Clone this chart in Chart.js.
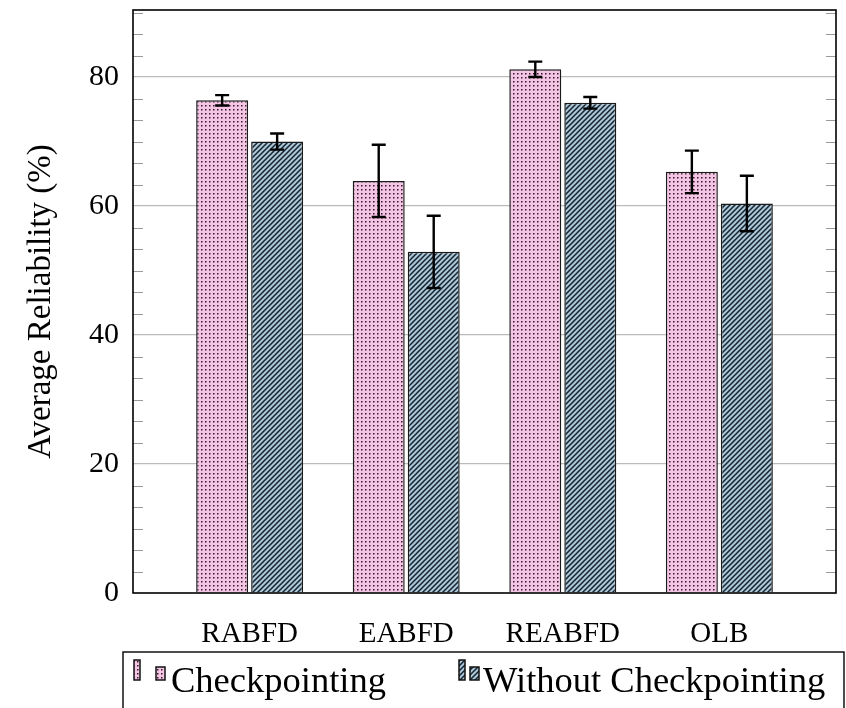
<!DOCTYPE html>
<html lang="en">
<head>
<meta charset="UTF-8" />
<title>Average Reliability</title>
<script src="https://cdn.jsdelivr.net/npm/chart.js"></script>
<style>
  html, body { margin: 0; padding: 0; background: #fff; }
  #wrap { width: 846px; height: 708px; }
</style>
</head>
<body>
<div id="wrap"><canvas id="chartCanvas" width="846" height="708"></canvas></div>
<script>
  const categories = ['RABFD', 'EABFD', 'REABFD', 'OLB'];
  const checkpointing = [76.4, 63.9, 81.2, 65.3];
  const checkpointingErr = [0.8, 5.6, 1.2, 3.3];
  const withoutCheckpointing = [70.0, 52.9, 76.0, 60.4];
  const withoutCheckpointingErr = [1.25, 5.6, 0.9, 4.3];
  const yTicks = [0, 20, 40, 60, 80];
  const seriesNames = ['Checkpointing', 'Without Checkpointing'];

  const SERIF = "'Liberation Serif', 'DejaVu Serif', serif";
  const canvas = document.getElementById('chartCanvas');
  const ctx = canvas.getContext('2d');

  // fill patterns: pink with dots, blue with north-east lines
  function dotPattern() {
    const c = document.createElement('canvas');
    c.width = 4; c.height = 4;
    const g = c.getContext('2d');
    g.fillStyle = '#f6c4e4';
    g.fillRect(0, 0, 4, 4);
    g.fillStyle = '#2e1a2b';
    g.fillRect(1, 1, 1.5, 1.5);
    return ctx.createPattern(c, 'repeat');
  }
  function stripePattern() {
    const s = 5;
    const c = document.createElement('canvas');
    c.width = s; c.height = s;
    const g = c.getContext('2d');
    g.fillStyle = '#abc8da';
    g.fillRect(0, 0, s, s);
    g.strokeStyle = '#17212c';
    g.lineWidth = 1.5;
    g.beginPath();
    g.moveTo(-1, s + 1); g.lineTo(s + 1, -1);
    g.moveTo(-1, 1); g.lineTo(1, -1);
    g.moveTo(s - 1, s + 1); g.lineTo(s + 1, s - 1);
    g.stroke();
    return ctx.createPattern(c, 'repeat');
  }
  const fills = [dotPattern(), stripePattern()];

  // error bars, drawn at each bar's position
  const errorBars = {
    id: 'errorBars',
    afterDatasetsDraw(chart) {
      const { ctx, scales: { y } } = chart;
      const errs = [checkpointingErr, withoutCheckpointingErr];
      ctx.save();
      ctx.strokeStyle = '#000';
      ctx.lineWidth = 2.4;
      chart.data.datasets.forEach((ds, di) => {
        chart.getDatasetMeta(di).data.forEach((bar, i) => {
          const v = ds.data[i].y, e = errs[di][i];
          const t = y.getPixelForValue(v + e), b = y.getPixelForValue(v - e);
          const x = bar.x, w = 7;
          ctx.beginPath();
          ctx.moveTo(x, t); ctx.lineTo(x, b);
          ctx.moveTo(x - w, t); ctx.lineTo(x + w, t);
          ctx.moveTo(x - w, b); ctx.lineTo(x + w, b);
          ctx.stroke();
        });
      });
      ctx.restore();
    }
  };

  // minor ticks on both sides + black frame
  const frame = {
    id: 'frame',
    beforeDatasetsDraw(chart) {
      const { ctx, chartArea: a, scales: { y } } = chart;
      ctx.save();
      ctx.strokeStyle = '#9a9a9a';
      ctx.lineWidth = 1.2;
      const step = 20 / 6;
      for (let k = 1; k * step <= y.max + 0.01; k++) {
        if (k % 6 === 0) continue;
        const py = Math.round(y.getPixelForValue(k * step)) + 0.5;
        ctx.beginPath();
        ctx.moveTo(a.left, py); ctx.lineTo(a.left + 10, py);
        ctx.moveTo(a.right, py); ctx.lineTo(a.right - 10, py);
        ctx.stroke();
      }
      ctx.restore();
    },
    afterDatasetsDraw(chart) {
      const { ctx, chartArea: a } = chart;
      ctx.save();
      ctx.strokeStyle = '#000';
      ctx.lineWidth = 1.6;
      ctx.strokeRect(a.left, a.top, a.right - a.left, a.bottom - a.top);
      ctx.restore();
    }
  };

  // pgfplots-like legend box under the axis
  const boxLegend = {
    id: 'boxLegend',
    afterDraw(chart) {
      const { ctx } = chart;
      ctx.save();
      ctx.strokeStyle = '#000';
      ctx.lineWidth = 1.4;
      ctx.strokeRect(123, 652, 721, 80);
      const items = [
        { icons: [[134, 660, 6, 20], [156, 667, 9, 13]], tx: 171 },
        { icons: [[459, 660, 6, 20], [470, 667, 9, 13]], tx: 483 }
      ];
      items.forEach((it, i) => {
        it.icons.forEach(r => {
          ctx.fillStyle = fills[i];
          ctx.fillRect(r[0], r[1], r[2], r[3]);
          ctx.strokeStyle = '#111';
          ctx.lineWidth = 1.5;
          ctx.strokeRect(r[0], r[1], r[2], r[3]);
        });
        ctx.fillStyle = '#000';
        ctx.font = '36.5px ' + SERIF;
        ctx.textBaseline = 'alphabetic';
        ctx.fillText(seriesNames[i], it.tx, 692);
      });
      ctx.restore();
    }
  };

  new Chart(ctx, {
    type: 'bar',
    data: {
      datasets: [
        {
          label: seriesNames[0],
          data: categories.map((c, i) => ({ x: i, y: checkpointing[i] })),
          backgroundColor: fills[0], borderColor: '#1a1a1a', borderWidth: 1.5
        },
        {
          label: seriesNames[1],
          data: categories.map((c, i) => ({ x: i, y: withoutCheckpointing[i] })),
          backgroundColor: fills[1], borderColor: '#1a1a1a', borderWidth: 1.5
        }
      ]
    },
    options: {
      responsive: false,
      animation: false,
      events: [],
      categoryPercentage: 0.7025,
      barPercentage: 0.945,
      layout: { padding: { left: 0, right: 10, top: 10, bottom: 0 } },
      scales: {
        x: {
          type: 'linear',
          offset: false,
          min: -0.745,
          max: 3.745,
          grid: { display: false, drawTicks: false, offset: false },
          border: { display: false },
          afterBuildTicks: s => { s.ticks = categories.map((c, i) => ({ value: i })); },
          afterFit: s => { s.height = 115; s.paddingLeft = 0; s.paddingRight = 0; },
          ticks: {
            padding: 24,
            maxRotation: 0,
            autoSkip: false,
            color: '#000',
            font: { family: SERIF, size: 29 },
            callback: v => categories[v]
          }
        },
        y: {
          min: 0,
          max: 90.4,
          grid: {
            drawTicks: false,
            color: c => (c.tick && c.tick.value === 0) ? 'rgba(0,0,0,0)' : '#bbbbbb',
            lineWidth: 1.2
          },
          border: { display: false },
          afterBuildTicks: s => { s.ticks = yTicks.map(v => ({ value: v })); },
          afterFit: s => { s.width = 133; s.paddingTop = 0; s.paddingBottom = 0; },
          ticks: {
            padding: 14,
            color: '#000',
            font: { family: SERIF, size: 30 }
          },
          title: {
            display: true,
            text: 'Average Reliability (%)',
            color: '#000',
            font: { family: SERIF, size: 33 },
            padding: { top: 22, bottom: 0 }
          }
        }
      },
      plugins: {
        legend: { display: false },
        tooltip: { enabled: false }
      }
    },
    plugins: [frame, errorBars, boxLegend]
  });
</script>
</body>
</html>
